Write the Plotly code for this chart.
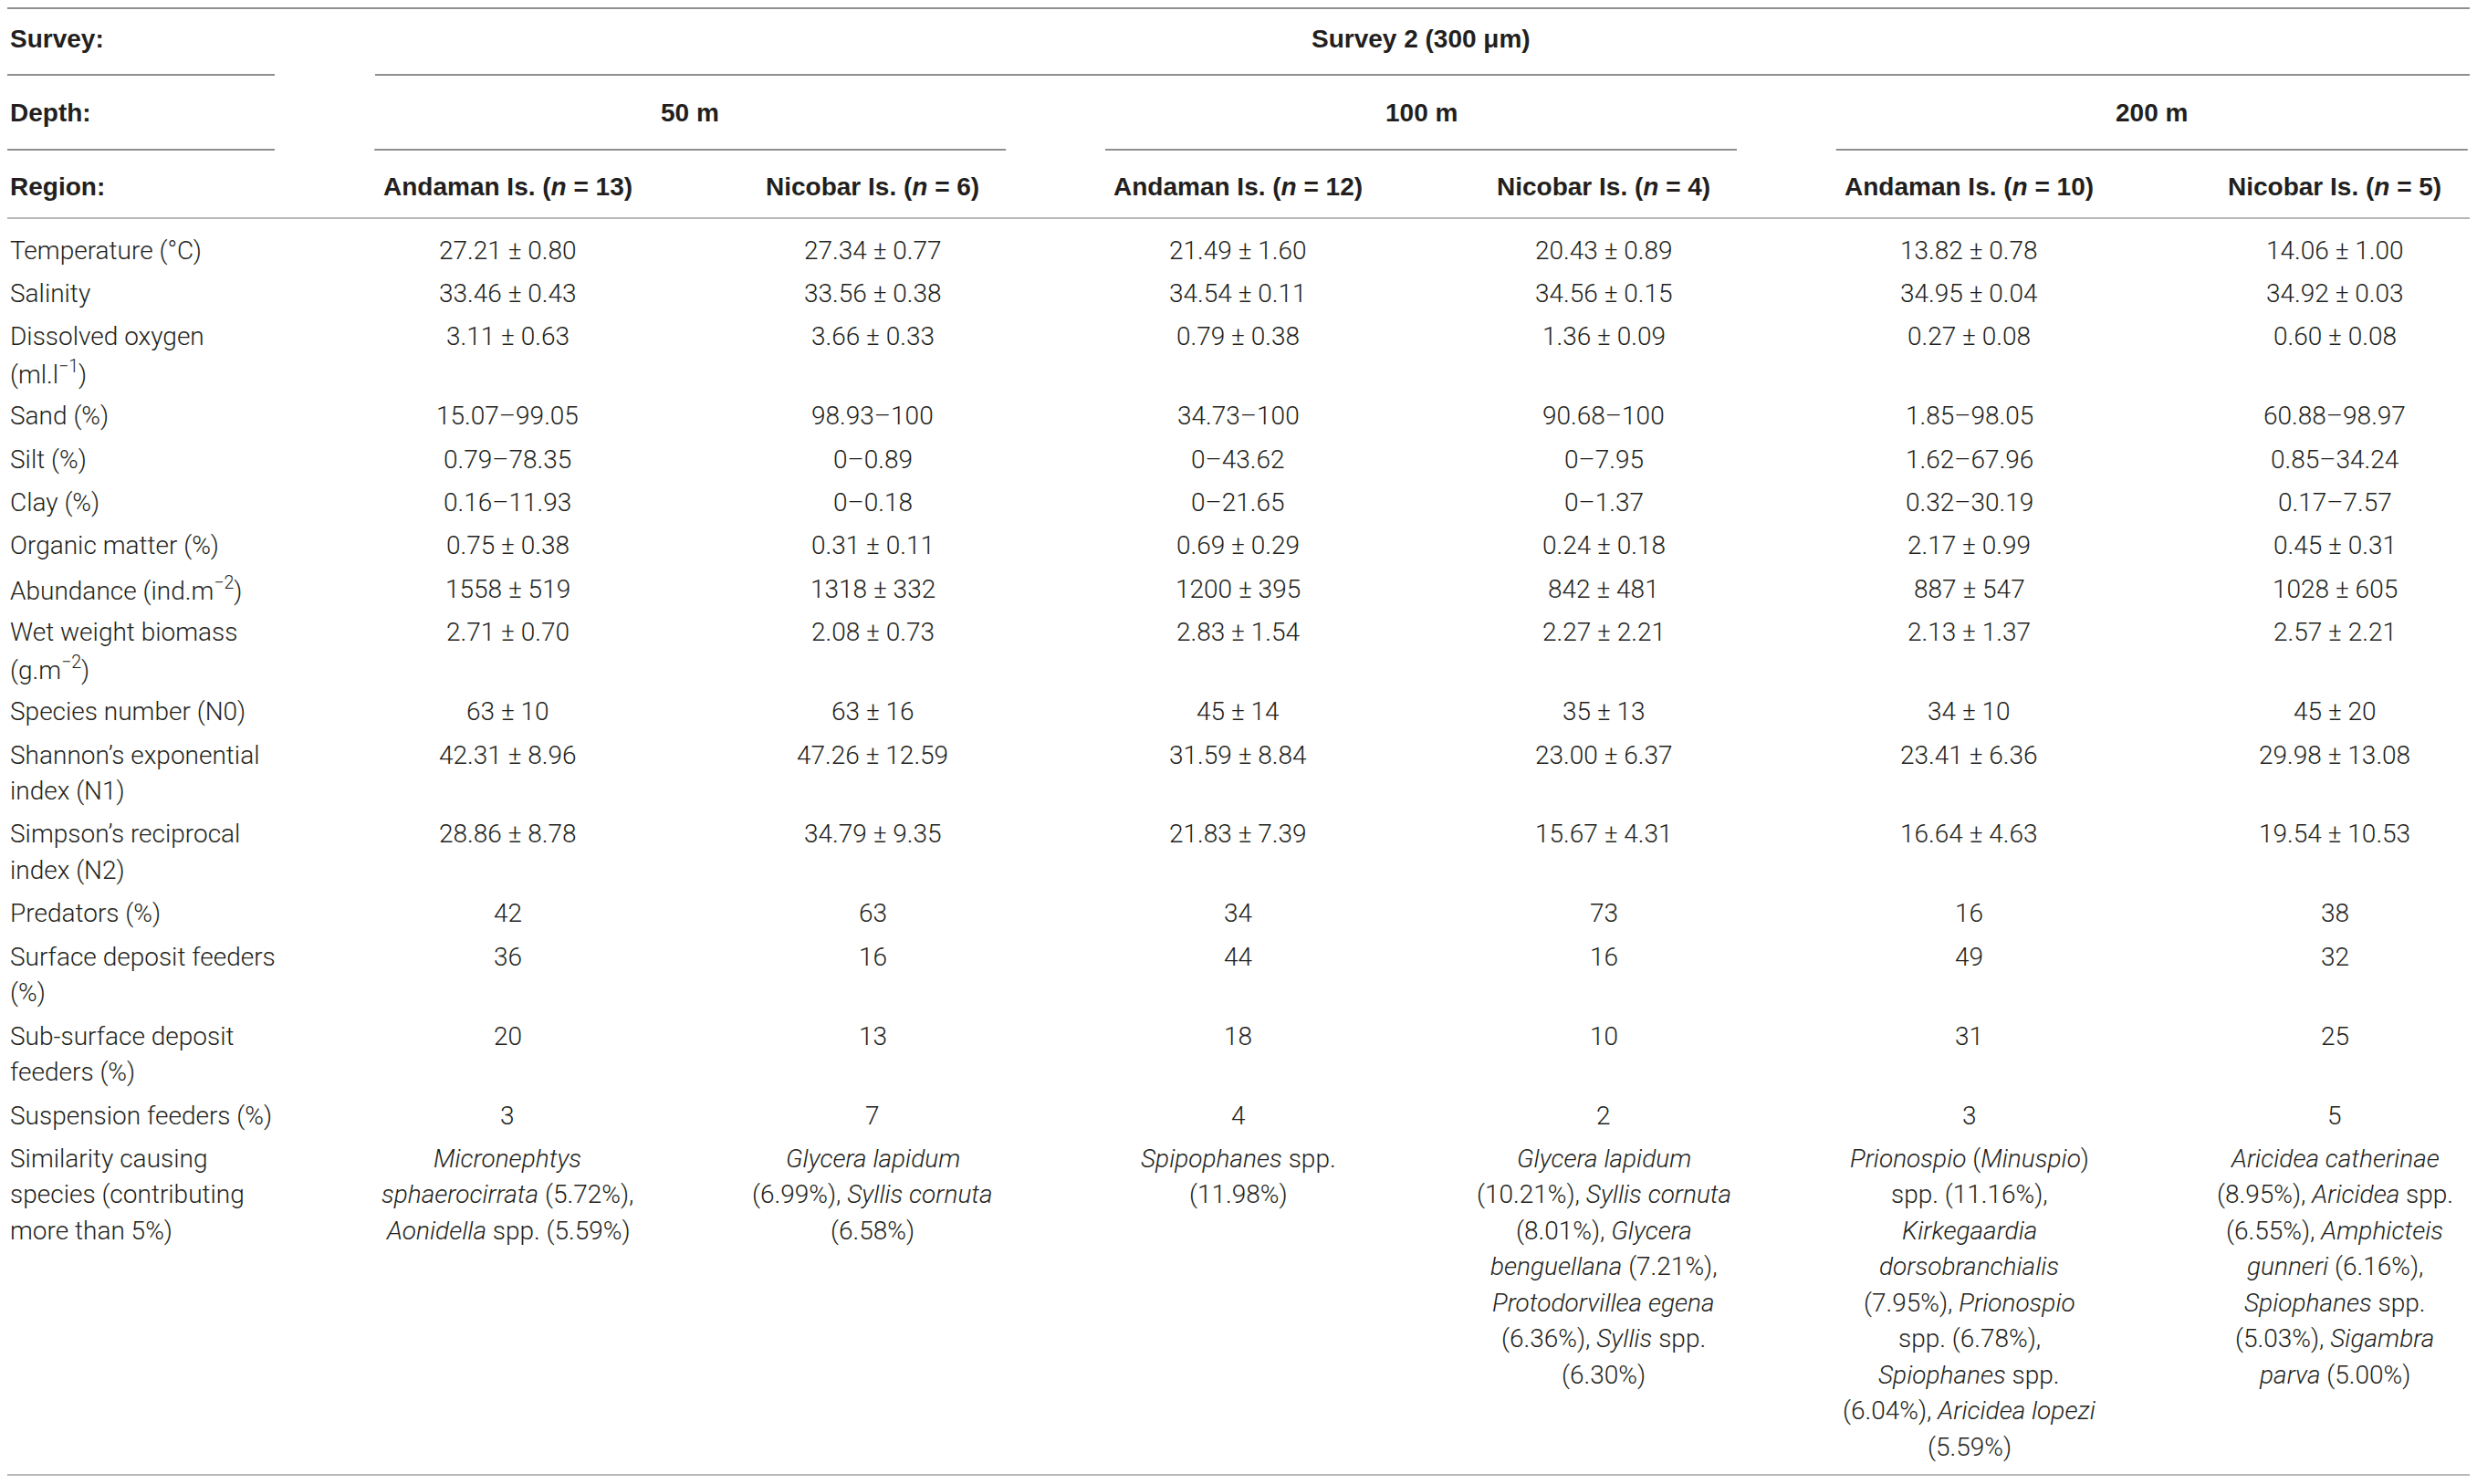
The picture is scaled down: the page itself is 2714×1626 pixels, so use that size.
import plotly.graph_objects as go

# table content
survey_title = "Survey 2 (300 μm)"
depths = ["50 m", "100 m", "200 m"]
regions = ["Andaman Is.", "Nicobar Is.", "Andaman Is.", "Nicobar Is.", "Andaman Is.", "Nicobar Is."]
n_sites = [13, 6, 12, 4, 10, 5]

row_labels = [
    "Temperature (°C)",
    "Salinity",
    "Dissolved oxygen<br>(ml.l<sup>−1</sup>)",
    "Sand (%)",
    "Silt (%)",
    "Clay (%)",
    "Organic matter (%)",
    "Abundance (ind.m<sup>−2</sup>)",
    "Wet weight biomass<br>(g.m<sup>−2</sup>)",
    "Species number (N0)",
    "Shannon’s exponential<br>index (N1)",
    "Simpson’s reciprocal<br>index (N2)",
    "Predators (%)",
    "Surface deposit feeders<br>(%)",
    "Sub-surface deposit<br>feeders (%)",
    "Suspension feeders (%)",
    "Similarity causing<br>species (contributing<br>more than 5%)",
]

andaman_50 = [
    "27.21 ± 0.80", "33.46 ± 0.43", "3.11 ± 0.63", "15.07–99.05", "0.79–78.35", "0.16–11.93",
    "0.75 ± 0.38", "1558 ± 519", "2.71 ± 0.70", "63 ± 10", "42.31 ± 8.96", "28.86 ± 8.78",
    "42", "36", "20", "3",
    "<i>Micronephtys</i><br><i>sphaerocirrata</i> (5.72%),<br><i>Aonidella</i> spp. (5.59%)",
]
nicobar_50 = [
    "27.34 ± 0.77", "33.56 ± 0.38", "3.66 ± 0.33", "98.93–100", "0–0.89", "0–0.18",
    "0.31 ± 0.11", "1318 ± 332", "2.08 ± 0.73", "63 ± 16", "47.26 ± 12.59", "34.79 ± 9.35",
    "63", "16", "13", "7",
    "<i>Glycera lapidum</i><br>(6.99%), <i>Syllis cornuta</i><br>(6.58%)",
]
andaman_100 = [
    "21.49 ± 1.60", "34.54 ± 0.11", "0.79 ± 0.38", "34.73–100", "0–43.62", "0–21.65",
    "0.69 ± 0.29", "1200 ± 395", "2.83 ± 1.54", "45 ± 14", "31.59 ± 8.84", "21.83 ± 7.39",
    "34", "44", "18", "4",
    "<i>Spipophanes</i> spp.<br>(11.98%)",
]
nicobar_100 = [
    "20.43 ± 0.89", "34.56 ± 0.15", "1.36 ± 0.09", "90.68–100", "0–7.95", "0–1.37",
    "0.24 ± 0.18", "842 ± 481", "2.27 ± 2.21", "35 ± 13", "23.00 ± 6.37", "15.67 ± 4.31",
    "73", "16", "10", "2",
    "<i>Glycera lapidum</i><br>(10.21%), <i>Syllis cornuta</i><br>(8.01%), <i>Glycera</i><br>"
    "<i>benguellana</i> (7.21%),<br><i>Protodorvillea egena</i><br>(6.36%), <i>Syllis</i> spp.<br>(6.30%)",
]
andaman_200 = [
    "13.82 ± 0.78", "34.95 ± 0.04", "0.27 ± 0.08", "1.85–98.05", "1.62–67.96", "0.32–30.19",
    "2.17 ± 0.99", "887 ± 547", "2.13 ± 1.37", "34 ± 10", "23.41 ± 6.36", "16.64 ± 4.63",
    "16", "49", "31", "3",
    "<i>Prionospio</i> (<i>Minuspio</i>)<br>spp. (11.16%),<br><i>Kirkegaardia</i><br><i>dorsobranchialis</i><br>"
    "(7.95%), <i>Prionospio</i><br>spp. (6.78%),<br><i>Spiophanes</i> spp.<br>(6.04%), <i>Aricidea lopezi</i><br>(5.59%)",
]
nicobar_200 = [
    "14.06 ± 1.00", "34.92 ± 0.03", "0.60 ± 0.08", "60.88–98.97", "0.85–34.24", "0.17–7.57",
    "0.45 ± 0.31", "1028 ± 605", "2.57 ± 2.21", "45 ± 20", "29.98 ± 13.08", "19.54 ± 10.53",
    "38", "32", "25", "5",
    "<i>Aricidea catherinae</i><br>(8.95%), <i>Aricidea</i> spp.<br>(6.55%), <i>Amphicteis</i><br>"
    "<i>gunneri</i> (6.16%),<br><i>Spiophanes</i> spp.<br>(5.03%), <i>Sigambra</i><br><i>parva</i> (5.00%)",
]
columns = [andaman_50, nicobar_50, andaman_100, nicobar_100, andaman_200, nicobar_200]

# layout constants (pixels of the browser window)
W, H = 2714, 1626
PAGE_MARGIN = 8          # default body margin of the page
BODY_FONT = "Roboto"
HEAD_FONT = "Liberation Sans"
FS = 28
TXT = "#231f20"
LINE_DARK = "#8f8f8f"
LINE_LIGHT = "#b8b8b8"
LABEL_X = 9
COL0, COL_STEP = 556, 400.4
FIRST_ROW = 274
ROW_STEP = 47.4
LINE_H = 39.5

fig = go.Figure()
fig.add_trace(go.Scatter(x=[PAGE_MARGIN, W - PAGE_MARGIN], y=[PAGE_MARGIN, H - PAGE_MARGIN],
                         mode="markers", marker=dict(opacity=0), hoverinfo="skip", showlegend=False))


def text(x, y, s, anchor="center", bold=False):
    fig.add_annotation(
        x=x, y=y, xref="x", yref="y", text=s,
        showarrow=False, xanchor=anchor, yanchor="middle",
        font=dict(family=HEAD_FONT if bold else BODY_FONT, size=FS, color=TXT,
                  weight=700 if bold else 300),
    )


def hline(y, x0, x1, color=LINE_DARK):
    fig.add_shape(type="line", xref="x", yref="y", x0=x0, x1=x1, y0=y, y1=y,
                  line=dict(color=color, width=2))


col_x = [COL0 + COL_STEP * i for i in range(len(columns))]
grp_x = [(col_x[2 * g] + col_x[2 * g + 1]) / 2 for g in range(len(depths))]

# header block
text(LABEL_X, 42, "Survey:", "left", True)
text(LABEL_X, 123, "Depth:", "left", True)
text(LABEL_X, 204, "Region:", "left", True)
text((col_x[0] + col_x[-1]) / 2, 42, survey_title, bold=True)
for g, d in enumerate(depths):
    text(grp_x[g], 123, d, bold=True)
    hline(164, grp_x[g] - 346, grp_x[g] + 346)
for i, (r, n) in enumerate(zip(regions, n_sites)):
    text(col_x[i], 204, f"{r} (<i>n</i> = {n})", bold=True)

hline(9, 8, 2708)
hline(82, 8, 301)
hline(82, 411, 2708)
hline(164, 8, 301)
hline(239, 8, 2708, LINE_LIGHT)

# body rows
y = FIRST_ROW
for r, label in enumerate(row_labels):
    cells = [label] + [c[r] for c in columns]
    xs = [LABEL_X] + col_x
    for k, (cx, cell) in enumerate(zip(xs, cells)):
        for j, part in enumerate(cell.split("<br>")):
            text(cx, y + j * LINE_H, part, "left" if k == 0 else "center")
    y += ROW_STEP + LINE_H * (len(label.split("<br>")) - 1)

hline(1616, 8, 2708, LINE_LIGHT)

# axes in window pixels; the figure sits inside the page margin
fig.update_xaxes(range=[PAGE_MARGIN, W - PAGE_MARGIN], visible=False, fixedrange=True)
fig.update_yaxes(range=[H - PAGE_MARGIN, PAGE_MARGIN], visible=False, fixedrange=True)
fig.update_layout(
    width=W - 2 * PAGE_MARGIN, height=H - 2 * PAGE_MARGIN,
    margin=dict(l=0, r=0, t=0, b=0),
    plot_bgcolor="white", paper_bgcolor="white",
    showlegend=False,
)

fig.write_html("out.html")
